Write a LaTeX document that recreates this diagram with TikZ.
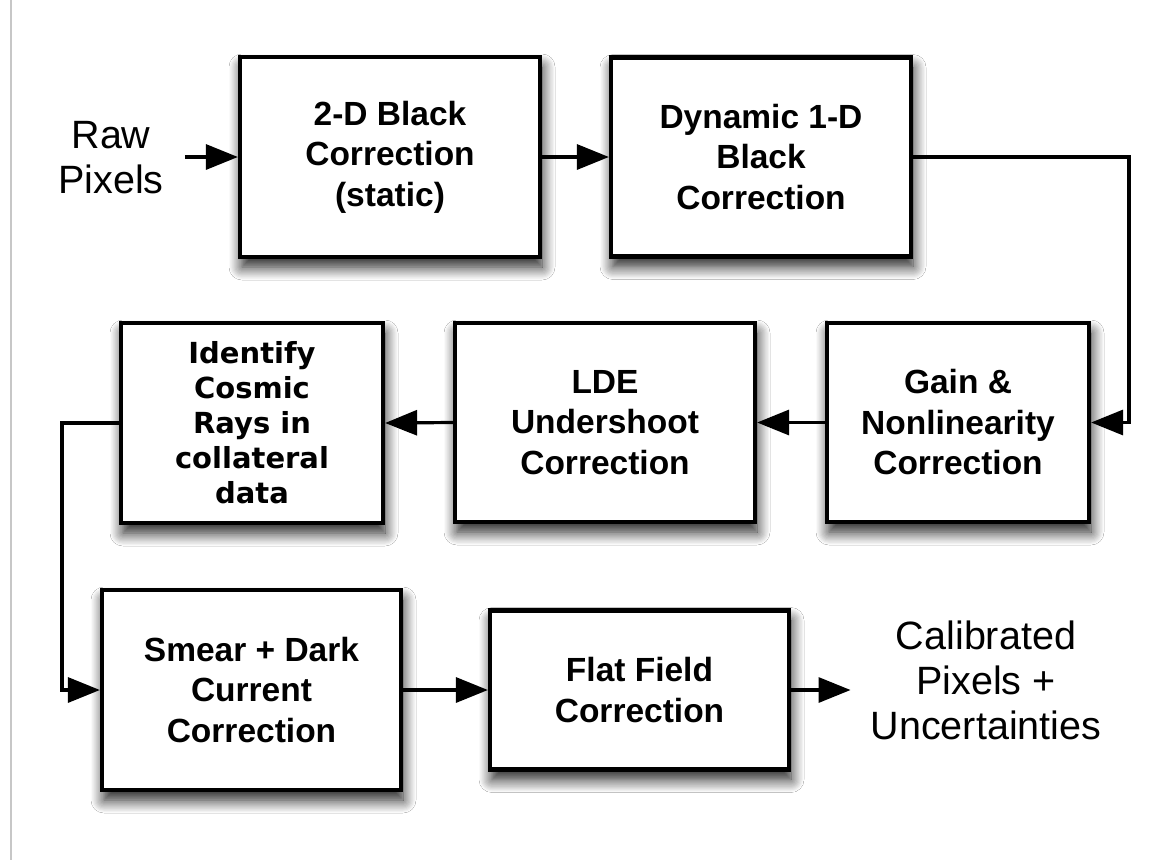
\documentclass[tikz,border=0pt]{standalone}
\usepackage{fontspec}
\setmainfont{Liberation Sans}
\newfontfamily\idfont{DejaVu Sans}
\usetikzlibrary{arrows.meta,shadows.blur}
\begin{document}
\begin{tikzpicture}[x=1pt,y=-1pt,
  box/.style={draw=black, line width=4.2pt, fill=white, align=center, inner sep=0pt,
    blur shadow={shadow xshift=2pt, shadow yshift=-10pt, shadow blur radius=13pt, shadow blur steps=12, shadow opacity=90},
    font=\fontsize{33.5}{40.5}\selectfont\bfseries},
  idbox/.style={box, font=\idfont\fontsize{29}{35}\selectfont\bfseries},
  lbl/.style={align=center, inner sep=0pt, font=\fontsize{39.5}{45}\selectfont},
  arr/.style={line width=3.2pt, -{Triangle[length=32pt,width=25pt]}},
  line join=miter]
\fill[white] (0,0) rectangle (1158,860);
\useasboundingbox (0,0) rectangle (1158,860);
\draw[black!22, line width=1.5pt] (11,0) -- (11,860);

\node[box, minimum width=300pt, minimum height=200pt] (b1) at (390,157) {2-D Black\\Correction\\(static)};
\node[box, minimum width=300pt, minimum height=199pt] (b2) at (761,157) {Dynamic 1-D\\Black\\Correction};
\node[box, minimum width=262pt, minimum height=199pt] (b3) at (958,422.5) {Gain \&\\Nonlinearity\\Correction};
\node[box, minimum width=300pt, minimum height=199pt] (b4) at (605,422.5) {LDE\\Undershoot\\Correction};
\node[idbox, minimum width=262pt, minimum height=200pt] (b5) at (252,423) {Identify\\Cosmic\\Rays in\\collateral\\data};
\node[box, minimum width=299pt, minimum height=200pt] (b6) at (251.5,690) {Smear + Dark\\Current\\Correction};
\node[box, minimum width=299pt, minimum height=159pt] (b7) at (639.5,690) {Flat Field\\Correction};

\node[lbl] (raw) at (111,158) {Raw\\Pixels};
\node[lbl] (cal) at (986,680) {Calibrated\\Pixels +\\Uncertainties};

\coordinate (rt) at (1129,157);
\coordinate (lt) at (62,423);

\draw[arr] ([xshift=21pt]b1.west -| raw.east) -- (b1.west);
\draw[arr] (b1.east) -- (b2.west);
\draw[arr] (b2.east) -- (rt) |- (b3.east);
\draw[arr] (b3.west) -- (b4.east);
\draw[arr] (b4.west) -- (b5.east);
\draw[arr] (b5.west) -- (lt) |- (b6.west);
\draw[arr] (b6.east) -- (b7.west);
\draw[arr, shorten >=20pt] (b7.east) -- (b7.east -| cal.west);
\end{tikzpicture}
\end{document}
